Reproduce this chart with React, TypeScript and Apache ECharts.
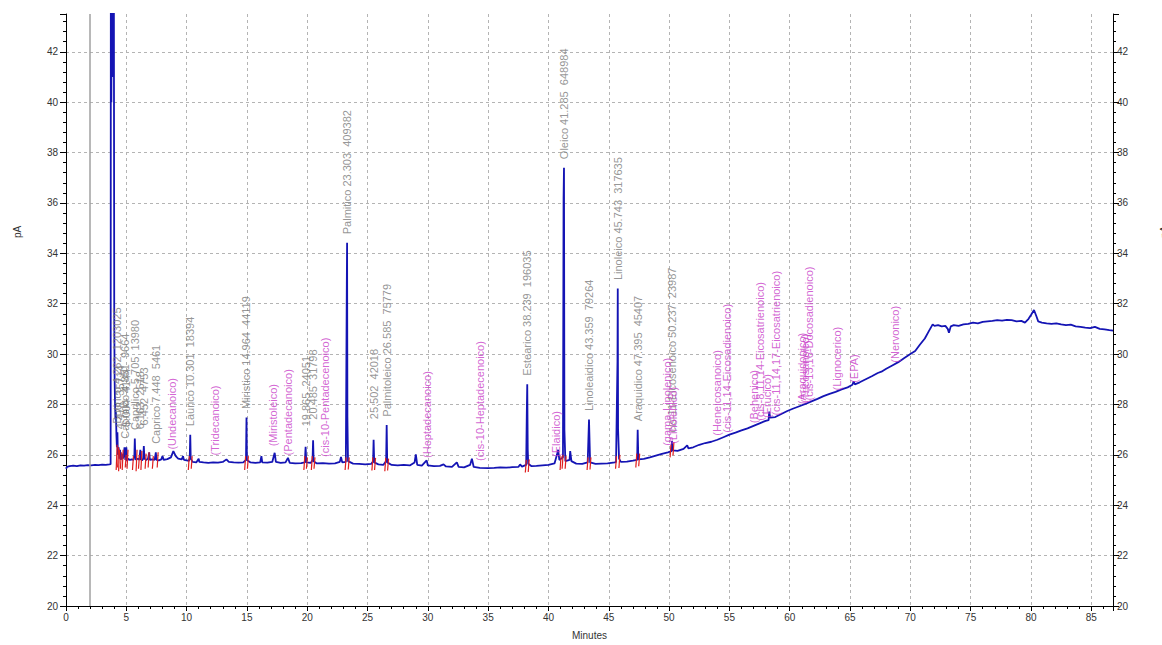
import { useEffect, useRef } from 'react';
import * as echarts from 'echarts';

// Axis ranges (minutes / pA)
const X_MIN = 0;
const X_MAX = 86.8;
const X_STEP = 5;
const Y_MIN = 20;
const Y_MAX = 43.5;
const Y_STEP = 2;

// Injection marker (minutes)
const injectionTime = 1.93;

// Detector signal: [minutes, pA]
const signal: [number, number][] = [
  [0, 25.45], [0.08, 25.52], [0.3, 25.55], [0.6, 25.57], [0.9, 25.55], [1.2, 25.58], [1.5, 25.57],
  [1.8, 25.59], [2.1, 25.58], [2.4, 25.6], [2.7, 25.59], [3.0, 25.61], [3.3, 25.6], [3.6, 25.62],
  [3.7, 25.63], [3.72, 48], [3.76, 40], [3.8, 48], [3.84, 41], [3.88, 48], [3.92, 43], [3.96, 48],
  [4.0, 31.5], [4.03, 29.0], [4.06, 28.2], [4.1, 27.4], [4.14, 27.7], [4.18, 26.8], [4.22, 26.3],
  [4.262, 26.9], [4.3, 26.0], [4.36, 26.3], [4.42, 25.85], [4.478, 26.2], [4.55, 25.8], [4.62, 26.05],
  [4.7, 25.85], [4.78, 25.95], [4.851, 26.3], [4.92, 25.8], [5.004, 26.3], [5.06, 25.75], [5.15, 25.85],
  [5.3, 25.8], [5.45, 25.82], [5.6, 25.8], [5.67, 26.0], [5.705, 26.65], [5.74, 26.0], [5.8, 25.8],
  [5.95, 25.85], [6.08, 25.8], [6.163, 26.2], [6.22, 25.82], [6.3, 25.78], [6.4, 25.85], [6.452, 26.35],
  [6.5, 25.85], [6.65, 25.8], [6.8, 25.85], [6.9, 26.1], [6.95, 25.8], [7.15, 25.82], [7.35, 25.8],
  [7.448, 26.1], [7.5, 25.8], [7.7, 25.78], [7.9, 25.82], [8.0, 25.95], [8.1, 25.8], [8.4, 25.83],
  [8.7, 25.9], [8.9, 26.15], [9.1, 25.95], [9.3, 25.85], [9.6, 25.82], [9.7, 25.95], [9.78, 25.8],
  [10.0, 25.78], [10.2, 25.76], [10.26, 25.9], [10.301, 26.8], [10.34, 25.85], [10.5, 25.72],
  [10.8, 25.7], [11.0, 25.85], [11.05, 25.72], [11.4, 25.7], [11.8, 25.68], [12.2, 25.7], [12.6, 25.69],
  [13.0, 25.72], [13.3, 25.82], [13.5, 25.72], [13.9, 25.7], [14.3, 25.69], [14.7, 25.7], [14.92, 25.8],
  [14.964, 27.48], [15.0, 25.8], [15.3, 25.7], [15.7, 25.68], [16.1, 25.7], [16.2, 25.95], [16.27, 25.7],
  [16.7, 25.69], [17.1, 25.72], [17.3, 26.08], [17.4, 25.72], [17.8, 25.68], [18.2, 25.7], [18.4, 25.88],
  [18.55, 25.68], [19.0, 25.66], [19.5, 25.67], [19.8, 25.7], [19.865, 26.32], [19.92, 25.7],
  [20.3, 25.68], [20.44, 25.8], [20.485, 26.58], [20.53, 25.75], [20.8, 25.66], [21.3, 25.67],
  [21.8, 25.65], [22.3, 25.66], [22.7, 25.72], [22.8, 25.92], [22.9, 25.7], [23.2, 25.72], [23.28, 32.8],
  [23.303, 34.42], [23.33, 27.5], [23.38, 25.75], [23.8, 25.65], [24.3, 25.64], [24.8, 25.62],
  [25.3, 25.64], [25.46, 25.75], [25.502, 26.6], [25.55, 25.7], [25.9, 25.62], [26.3, 25.6],
  [26.54, 25.75], [26.585, 27.18], [26.63, 25.7], [27.0, 25.6], [27.5, 25.58], [28.0, 25.6],
  [28.5, 25.58], [28.9, 25.7], [29.0, 26.02], [29.12, 25.6], [29.5, 25.57], [29.9, 25.78], [30.0, 25.58],
  [30.5, 25.55], [31.0, 25.56], [31.3, 25.62], [31.5, 25.54], [32.0, 25.52], [32.4, 25.7], [32.55, 25.52],
  [33.0, 25.5], [33.5, 25.6], [33.65, 25.85], [33.8, 25.52], [34.3, 25.48], [35.0, 25.47], [35.5, 25.48],
  [36.0, 25.5], [36.5, 25.49], [37.0, 25.51], [37.5, 25.52], [37.65, 25.62], [37.8, 25.53],
  [38.15, 25.6], [38.2, 27.6], [38.239, 28.8], [38.28, 26.2], [38.32, 25.65], [38.6, 25.55],
  [39.0, 25.56], [39.5, 25.58], [40.0, 25.6], [40.5, 25.66], [40.7, 26.0], [40.8, 26.2], [40.9, 25.8],
  [41.2, 25.9], [41.25, 36.2], [41.285, 37.4], [41.32, 27.0], [41.4, 25.75], [41.75, 25.8],
  [41.8, 26.15], [41.9, 25.75], [42.3, 25.65], [42.8, 25.64], [43.25, 25.7], [43.359, 27.4],
  [43.45, 25.7], [43.9, 25.64], [44.4, 25.65], [44.9, 25.66], [45.5, 25.7], [45.6, 25.72],
  [45.72, 29.7], [45.743, 32.6], [45.77, 27.0], [45.85, 25.85], [46.0, 25.72], [46.5, 25.73],
  [47.0, 25.77], [47.35, 25.8], [47.395, 27.0], [47.45, 25.82], [47.9, 25.84], [48.4, 25.9],
  [48.9, 25.97], [49.4, 26.04], [49.9, 26.1], [50.2, 26.15], [50.237, 26.55], [50.3, 26.18],
  [50.7, 26.16], [51.2, 26.24], [51.5, 26.38], [51.6, 26.26], [52.0, 26.3], [52.5, 26.4], [53.0, 26.47],
  [53.5, 26.52], [54.0, 26.6], [54.5, 26.7], [55.0, 26.8], [55.5, 26.88], [56.0, 26.97], [56.5, 27.05],
  [57.0, 27.15], [57.5, 27.25], [58.0, 27.35], [58.25, 27.38], [58.3, 27.72], [58.38, 27.48],
  [58.8, 27.5], [59.3, 27.62], [59.8, 27.74], [60.3, 27.84], [60.8, 27.93], [61.3, 28.02],
  [61.8, 28.12], [62.3, 28.22], [62.8, 28.33], [63.3, 28.42], [63.8, 28.5], [64.3, 28.6], [64.8, 28.68],
  [65.2, 28.78], [65.3, 28.92], [65.4, 28.8], [65.8, 28.88], [66.3, 29.0], [66.8, 29.12], [67.3, 29.25],
  [67.6, 29.3], [68.0, 29.42], [68.5, 29.55], [69.0, 29.68], [69.5, 29.84], [70.0, 30.0], [70.4, 30.12],
  [70.8, 30.38], [71.2, 30.62], [71.5, 30.88], [71.85, 31.18], [72.0, 31.12], [72.3, 31.15],
  [72.6, 31.1], [72.9, 31.12], [73.1, 31.0], [73.2, 30.85], [73.35, 31.1], [73.6, 31.15], [74.0, 31.12],
  [74.4, 31.18], [74.8, 31.2], [75.2, 31.25], [75.6, 31.22], [76.0, 31.28], [76.4, 31.3], [76.8, 31.32],
  [77.2, 31.35], [77.6, 31.33], [78.0, 31.36], [78.4, 31.35], [78.8, 31.3], [79.2, 31.32],
  [79.5, 31.25], [79.8, 31.4], [80.0, 31.55], [80.25, 31.75], [80.45, 31.5], [80.6, 31.3],
  [80.9, 31.25], [81.3, 31.22], [81.7, 31.2], [82.1, 31.22], [82.5, 31.18], [82.9, 31.15],
  [83.3, 31.17], [83.7, 31.1], [84.1, 31.08], [84.5, 31.05], [84.9, 31.03], [85.3, 31.08],
  [85.7, 31.0], [86.1, 30.98], [86.5, 30.95], [86.8, 30.93],
];

// Integrated peaks: name, retention time (min), area, apex (pA)
const peakNames = [
  'Butirico', '', 'Caproico', '', 'Caprilico', '', '', 'Caprico', 'Laurico', 'Miristico', '', '',
  'Palmitico', '', 'Palmitoleico', 'Estearico', 'Oleico', 'Linoleaidico', 'Linoleico', 'Araquidico',
  'cis-11-Eicosenoico',
];
const peakTimes = [
  4.262, 4.478, 4.851, 5.004, 5.705, 6.163, 6.452, 7.448, 10.301, 14.964, 19.865, 20.485,
  23.303, 25.502, 26.585, 38.239, 41.285, 43.359, 45.743, 47.395, 50.237,
];
const peakAreas = [
  1203025, 35714, 9664, 4144, 13980, 2518, 4753, 5461, 18394, 44119, 24051, 31798,
  409382, 42018, 75779, 196035, 648984, 79264, 317635, 45407, 23987,
];
const peakApex = [
  26.9, 26.2, 26.3, 26.3, 26.65, 26.2, 26.35, 26.1, 26.8, 27.48, 26.32, 26.58,
  34.42, 26.6, 27.18, 28.8, 37.4, 27.4, 32.6, 27.0, 26.55,
];

// Expected components not found: name, retention time (min), signal level (pA)
const missingNames = [
  'Undecanoico', 'Tridecanoico', 'Miristoleico', 'Pentadecanoico', 'cis-10-Pentadecenoico',
  'Heptadecanoico', 'cis-10-Heptadecenoico', 'Elaidico', 'gama-Linolenico', 'Linolenico',
  'Heneicosanoico', 'cis-11,14-Eicosadienoico', 'Behenico', 'cis-8,11,14-Eicosatrienoico', 'Erucico',
  'cis-11,14,17-Eicosatrienoico', 'Araquidonico', 'Tricosanoico', 'cis-13,16-Docosadienoico',
  'Lignocerico', 'EPA', 'Nervonico',
];
const missingTimes = [
  8.8, 12.37, 17.15, 18.37, 21.5, 29.9, 34.35, 40.64, 49.8, 50.3, 54.0, 54.8, 57.05, 57.55, 58.1,
  58.9, 61.05, 61.3, 61.6, 63.9, 65.3, 68.7,
];
const missingLevels = [
  25.95, 25.72, 26.08, 25.72, 25.66, 25.62, 25.5, 25.66, 26.1, 26.18, 26.5, 26.62, 27.0, 27.1,
  27.2, 27.3, 27.75, 27.8, 27.9, 28.3, 28.6, 29.4,
];

// Integration boundary ticks: [minutes, low pA, high pA]
const integrationMarks: [number, number, number][] = [
  [4.2, 25.4, 26.4], [4.32, 25.5, 26.3], [4.4, 25.35, 26.2], [4.55, 25.45, 26.1], [4.7, 25.4, 26.2],
  [4.95, 25.5, 26.0], [5.1, 25.45, 26.2], [5.55, 25.4, 25.95], [5.85, 25.35, 26.2], [6.05, 25.45, 26.0],
  [6.25, 25.4, 26.15], [6.6, 25.45, 26.05], [6.85, 25.5, 26.1], [7.2, 25.45, 25.95], [7.6, 25.5, 26.1],
  [10.18, 25.4, 25.95], [10.42, 25.45, 25.95], [14.85, 25.4, 25.95], [15.08, 25.45, 25.95],
  [19.76, 25.4, 25.95], [19.97, 25.45, 25.9], [20.38, 25.4, 25.95], [20.6, 25.45, 25.9],
  [23.18, 25.4, 25.9], [23.44, 25.42, 25.9], [25.4, 25.38, 25.9], [25.62, 25.4, 25.88],
  [26.47, 25.35, 25.88], [26.7, 25.38, 25.85], [38.12, 25.3, 25.8], [38.36, 25.32, 25.82],
  [41.0, 25.4, 25.95], [41.17, 25.45, 26.0], [41.42, 25.45, 25.95], [43.24, 25.4, 25.9],
  [43.48, 25.42, 25.9], [45.6, 25.45, 25.95], [45.88, 25.48, 26.0], [47.28, 25.5, 26.05],
  [47.52, 25.55, 26.05], [50.12, 25.9, 26.4], [50.36, 25.98, 26.5],
];

const FONT = '"Liberation Sans", Arial, sans-serif';

export default function App() {
  const ref = useRef<HTMLDivElement>(null);

  useEffect(() => {
    if (!ref.current) return;
    const chart = echarts.init(ref.current, undefined, { renderer: 'svg' });

    const peakLabels = peakTimes.map((t, i) => ({
      name: `${peakNames[i] ? peakNames[i] + ' ' : ''}${t.toFixed(3)}  ${peakAreas[i]}`,
      value: [t, peakApex[i]],
      label: { distance: peakNames[i] ? 8 : 20 },
    }));
    const missingLabels = missingTimes.map((t, i) => ({
      name: `(${missingNames[i]})`,
      value: [t, missingLevels[i]],
    }));

    const yAxisBase = {
      type: 'value' as const,
      min: Y_MIN,
      max: Y_MAX,
      interval: Y_STEP,
      axisLine: { show: true, lineStyle: { color: '#000', width: 1 } },
      axisTick: { show: true, length: 6, lineStyle: { color: '#000' } },
      minorTick: { show: true, splitNumber: 5, length: 3, lineStyle: { color: '#000' } },
      axisLabel: {
        fontSize: 10,
        color: '#333',
        fontFamily: FONT,
        showMaxLabel: false,
      },
    };

    chart.setOption({
      animation: false,
      backgroundColor: '#fff',
      grid: { left: 66, right: 49, top: 14, bottom: 27, containLabel: false },
      xAxis: {
        type: 'value',
        min: X_MIN,
        max: X_MAX,
        interval: X_STEP,
        name: 'Minutes',
        nameLocation: 'middle',
        nameGap: 24,
        nameTextStyle: { fontSize: 10, color: '#333', fontFamily: FONT },
        axisLine: { show: true, lineStyle: { color: '#000', width: 1 } },
        axisTick: { show: true, length: 5, lineStyle: { color: '#000' } },
        minorTick: { show: true, splitNumber: 5, length: 3, lineStyle: { color: '#000' } },
        axisLabel: { fontSize: 10, color: '#333', fontFamily: FONT, margin: 6, showMaxLabel: false },
        splitLine: {
          show: true,
          showMinLine: false,
          showMaxLine: false,
          lineStyle: { color: '#b4b4b4', type: [3, 3], width: 1 },
        },
      },
      yAxis: [
        {
          ...yAxisBase,
          position: 'left',
          axisLabel: { ...yAxisBase.axisLabel, margin: 8 },
          splitLine: {
            show: true,
            showMinLine: false,
            showMaxLine: false,
            lineStyle: { color: '#b4b4b4', type: [3, 3], width: 1 },
          },
        },
        {
          ...yAxisBase,
          position: 'right',
          axisLabel: { ...yAxisBase.axisLabel, margin: 4 },
          splitLine: { show: false },
        },
      ],
      graphic: [
        {
          type: 'text',
          x: 17,
          y: 232,
          rotation: Math.PI / 2,
          style: { text: 'pA', fontSize: 10, fill: '#333', fontFamily: FONT, align: 'center', verticalAlign: 'middle' },
        },
        {
          type: 'text',
          x: 1164,
          y: 232,
          rotation: Math.PI / 2,
          style: { text: 'pA', fontSize: 10, fill: '#333', fontFamily: FONT, align: 'center', verticalAlign: 'middle' },
        },
      ],
      series: [
        {
          type: 'line',
          data: signal,
          showSymbol: false,
          symbol: 'none',
          silent: true,
          z: 2,
          lineStyle: { color: '#1414b4', width: 1.8 },
          markLine: {
            silent: true,
            symbol: 'none',
            label: { show: false },
            lineStyle: { color: '#a0a0a0', width: 1.5, type: 'solid' },
            data: [{ xAxis: injectionTime }],
          },
        },
        {
          type: 'custom',
          data: integrationMarks,
          silent: true,
          z: 3,
          encode: { x: 0, y: [1, 2] },
          renderItem: (_params: any, api: any) => {
            const a = api.coord([api.value(0) - 0.04, api.value(1)]);
            const b = api.coord([api.value(0) + 0.04, api.value(2)]);
            return {
              type: 'line',
              shape: { x1: a[0], y1: a[1], x2: b[0], y2: b[1] },
              style: { stroke: '#e01e1e', lineWidth: 1.2 },
            };
          },
        },
        {
          type: 'scatter',
          data: peakLabels,
          symbolSize: 1,
          itemStyle: { color: 'rgba(0,0,0,0)' },
          silent: true,
          z: 4,
          label: {
            show: true,
            position: 'top',
            distance: 8,
            rotate: 90,
            align: 'left',
            verticalAlign: 'middle',
            formatter: '{b}',
            fontSize: 11,
            fontFamily: FONT,
            color: '#7a7a7a',
          },
        },
        {
          type: 'scatter',
          data: missingLabels,
          symbolSize: 1,
          itemStyle: { color: 'rgba(0,0,0,0)' },
          silent: true,
          z: 4,
          label: {
            show: true,
            position: 'top',
            distance: 6,
            rotate: 90,
            align: 'left',
            verticalAlign: 'middle',
            formatter: '{b}',
            fontSize: 11,
            fontFamily: FONT,
            color: '#c83cc8',
          },
        },
      ],
    });

    return () => chart.dispose();
  }, []);

  return (
    <div
      ref={ref}
      style={{ position: 'absolute', left: 0, top: 0, width: 1162, height: 645 }}
    />
  );
}
